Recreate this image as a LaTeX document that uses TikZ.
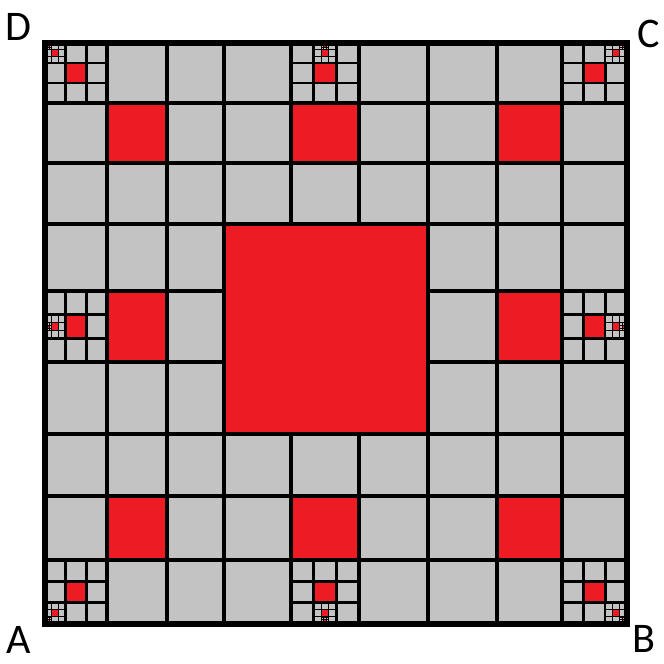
\documentclass[tikz,border=0pt]{standalone}
\usepackage{fontspec}
\setmainfont{Carlito}
\usepackage{tikz}
\definecolor{cellgray}{RGB}{195,195,195}
\definecolor{cellred}{RGB}{237,28,36}
\tikzset{
  graycell/.style={
    fill=cellgray,
    draw=black
  },
  redcell/.style={
    fill=cellred,
    draw=black
  },
  cornerlabel/.style={
    font=\fontsize{24}{28}\selectfont,
    inner sep=0pt
  }
}
\def\gridx{{45,107,167,224,291,359,428,497,562,627}}
\def\gridy{{43,103,163,224,291,362,434,496,560,624}}

\newcommand\carpetcell[7]{%
  \begingroup
  \pgfmathsetmacro\px{#1}\pgfmathsetmacro\py{#2}%
  \pgfmathsetmacro\qx{#3}\pgfmathsetmacro\qy{#4}%
  \pgfmathsetmacro\cellw{(\qx-\px)/3}%
  \pgfmathsetmacro\cellh{(\qy-\py)/3}%
  \pgfmathtruncatemacro\nxt{#7+1}%
  \pgfmathsetmacro\plw{2.7/(1.65^(#7-1))}%
  \pgfmathsetmacro\clw{2.7/(1.65^#7)}%
  \foreach \ci in {0,1,2}{
    \foreach \cj in {0,1,2}{
      \pgfmathsetmacro\ax{\px+\ci*\cellw}
      \pgfmathsetmacro\ay{\py+\cj*\cellh}
      \pgfmathsetmacro\bx{\ax+\cellw}
      \pgfmathsetmacro\by{\ay+\cellh}
      \pgfmathtruncatemacro\kind{(\ci==1 && \cj==1) ? 2 : ((\ci==#5 && \cj==#6 && \nxt<4) ? 1 : 0)}
      \ifcase\kind\relax
        \draw[graycell, line width=\clw pt] (\ax,\ay) rectangle (\bx,\by);
      \or
        \carpetcell{\ax}{\ay}{\bx}{\by}{#5}{#6}{\nxt}
      \or
        \draw[redcell, line width=\clw pt] (\ax,\ay) rectangle (\bx,\by);
      \fi
    }
  }
  \draw[line width=\plw pt] (\px,\py) rectangle (\qx,\qy);
  \endgroup
}

\begin{document}
\begin{tikzpicture}[x=0.02cm, y=-0.02cm]
\useasboundingbox (0,0) rectangle (664,664);

\foreach \bi in {0,1,2}{
  \foreach \bj in {0,1,2}{
    \pgfmathtruncatemacro\isctr{(\bi==1 && \bj==1) ? 1 : 0}
    \ifnum\isctr=0
      \foreach \ci in {0,1,2}{
        \foreach \cj in {0,1,2}{
          \pgfmathtruncatemacro\kx{3*\bi+\ci}
          \pgfmathtruncatemacro\ky{3*\bj+\cj}
          \pgfmathsetmacro\ax{\gridx[\kx]}
          \pgfmathsetmacro\bx{\gridx[\kx+1]}
          \pgfmathsetmacro\ay{\gridy[\ky]}
          \pgfmathsetmacro\by{\gridy[\ky+1]}
          \pgfmathtruncatemacro\kind{(\ci==1 && \cj==1) ? 2 : ((\ci==\bi && \cj==\bj) ? 1 : 0)}
          \ifcase\kind\relax
            \draw[graycell, line width=2.7pt] (\ax,\ay) rectangle (\bx,\by);
          \or
            \carpetcell{\ax}{\ay}{\bx}{\by}{\bi}{\bj}{1}
          \or
            \draw[redcell, line width=2.7pt] (\ax,\ay) rectangle (\bx,\by);
          \fi
        }
      }
    \fi
  }
}

\draw[redcell, line width=2.7pt] (224,224) rectangle (428,434);
\draw[line width=3pt] (45,43) rectangle (627,624);

\node[cornerlabel] (D) at (18,27) {D};
\node[cornerlabel] (C) at (649,34) {C};
\node[cornerlabel] (A) at (19,640) {A};
\node[cornerlabel] (B) at (644,639) {B};
\end{tikzpicture}
\end{document}
